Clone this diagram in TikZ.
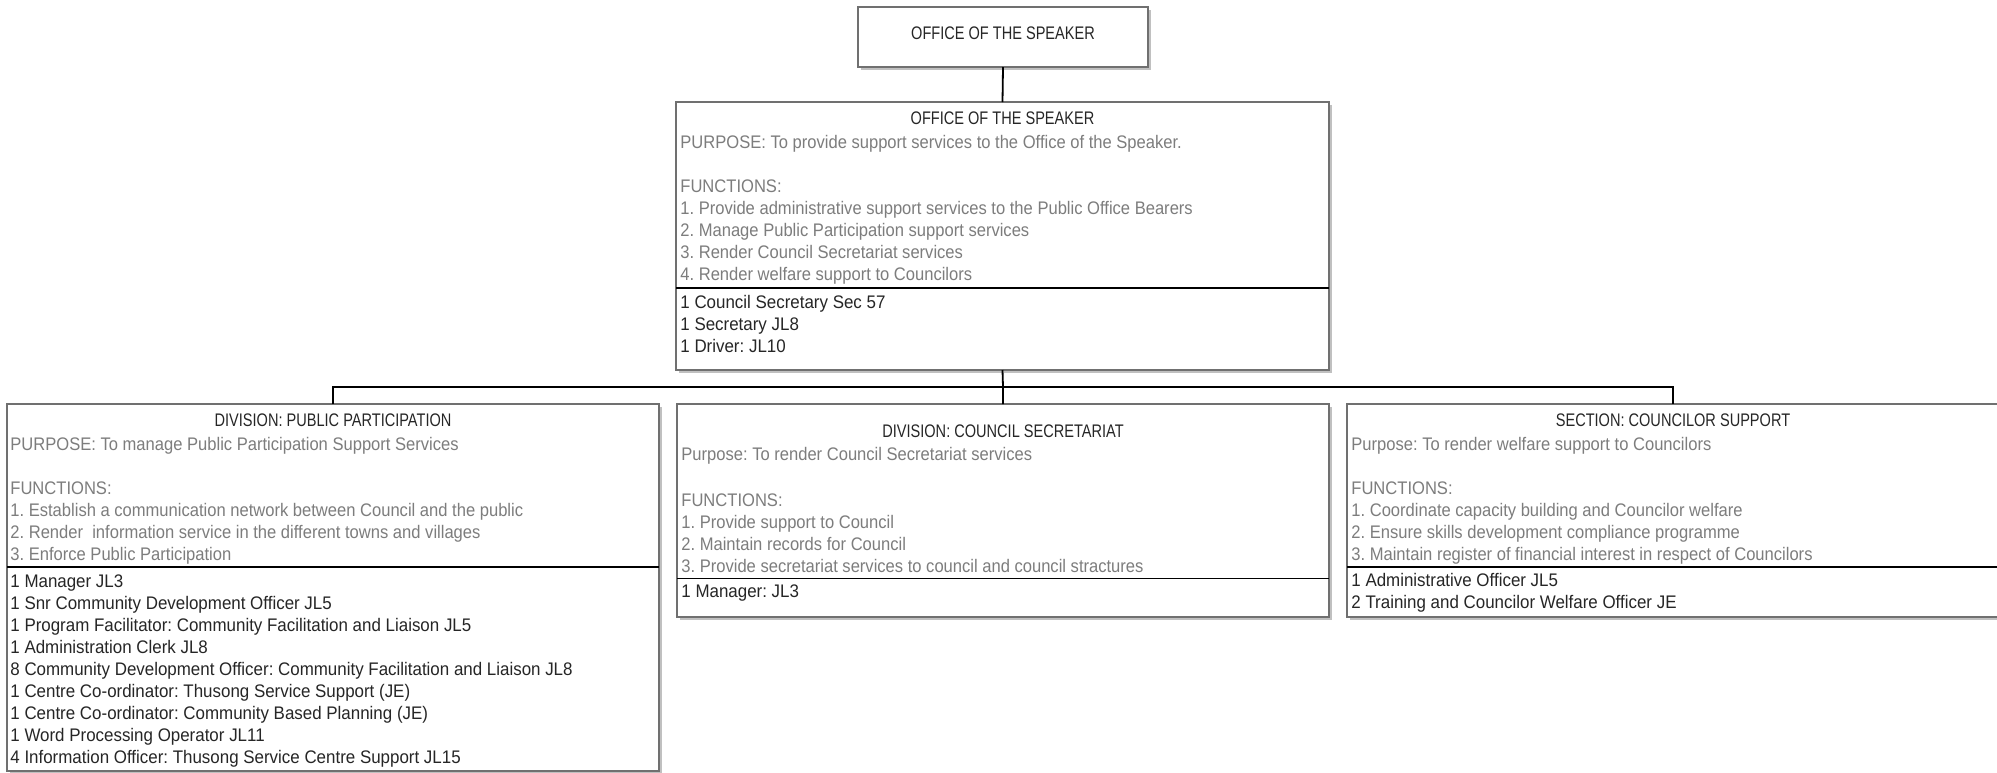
\documentclass[tikz,border=0pt]{standalone}
\usepackage{fontspec}
\setmainfont{Liberation Sans}[FakeStretch=0.91]
\newfontfamily\ttlfont{Liberation Sans}[FakeStretch=0.8]
\newfontfamily\dkfont{Liberation Sans}[FakeStretch=0.93]
\usetikzlibrary{shadows}
\definecolor{bordergray}{HTML}{707070}
\definecolor{shadowgray}{HTML}{C0C0C0}
\definecolor{lighttext}{HTML}{7D7D7D}
\definecolor{darktext}{HTML}{262626}
\tikzset{
  orgbox/.style={draw=bordergray, line width=0.9pt, fill=white, inner sep=0pt, outer sep=0pt,
    drop shadow={shadow xshift=1.6pt, shadow yshift=-1.6pt, fill=shadowgray, opacity=1}},
  ttl/.style={font=\ttlfont\frenchspacing\fontsize{9.1}{11}\selectfont, text=darktext, inner sep=0pt, anchor=base},
  lt/.style={font=\frenchspacing\fontsize{9.1}{11}\selectfont, text=lighttext, inner sep=0pt, anchor=base west},
  dk/.style={font=\dkfont\frenchspacing\fontsize{9.1}{11}\selectfont, text=darktext, inner sep=0pt, anchor=base west},
  sepline/.style={line width=0.9pt, draw=black},
  link/.style={line width=0.9pt, draw=black},
}
\newcommand\txtlines[5]{%
  \foreach \tl [count=\ii from 0] in {#5} {\node[#2, name=#1\ii] at (#3, #4+22*\ii) {\tl};}}
\frenchspacing
\begin{document}
\begin{tikzpicture}[x=0.5pt, y=-0.5pt]
\useasboundingbox (0,0) rectangle (1997,772);

% boxes
\node[orgbox, minimum width=145pt, minimum height=30pt] (top) at (1003,37) {};
\node[orgbox, minimum width=326.5pt, minimum height=134pt] (main) at (1002.5,236) {};
\node[orgbox, minimum width=326pt, minimum height=183.5pt] (pp) at (333,587.5) {};
\node[orgbox, minimum width=326pt, minimum height=106.5pt] (cs) at (1003,510.5) {};
\node[orgbox, minimum width=326pt, minimum height=106.5pt] (cos) at (1673,510.5) {};

% separators
\draw[sepline] ([yshift=-26pt]main.west) -- ([yshift=-26pt]main.east);
\draw[sepline] ([yshift=10.25pt]pp.west) -- ([yshift=10.25pt]pp.east);
\draw[sepline] ([yshift=-34pt]cs.west) -- ([yshift=-34pt]cs.east);
\draw[sepline] ([yshift=-28.25pt]cos.west) -- ([yshift=-28.25pt]cos.east);

% connectors
\coordinate (bus) at (1003,387);
\draw[link] (top.south) -- (main.north);
\draw[link] (main.south) -- (bus) -- (cs.north);
\draw[link] (pp.north) |- (bus) -| (cos.north);

% top box
\node[ttl] (toptitle) at (1003,39) {OFFICE OF THE SPEAKER};

% main box
\node[ttl] (maintitle) at (1002.5,124) {OFFICE OF THE SPEAKER};
\node[lt] (mainpurpose) at (680,148) {PURPOSE: To provide support services to the Office of the Speaker.};
\txtlines{mainf}{lt}{680}{192}{FUNCTIONS:,
  1. Provide administrative support services to the Public Office Bearers,
  2. Manage Public Participation support services,
  3. Render Council Secretariat services,
  4. Render welfare support to Councilors}
\txtlines{mains}{dk}{680}{308}{1 Council Secretary Sec 57,
  1 Secretary JL8,
  1 Driver: JL10}

% public participation
\node[ttl] (pptitle) at (333,426) {DIVISION: PUBLIC PARTICIPATION};
\node[lt] (pppurpose) at (10,450) {PURPOSE: To manage Public Participation Support Services};
\txtlines{ppf}{lt}{10}{494}{FUNCTIONS:,
  1. Establish a communication network between Council and the public,
  2. Render\ \ information service in the different towns and villages,
  3. Enforce Public Participation}
\txtlines{pps}{dk}{10}{587}{1 Manager JL3,
  1 Snr Community Development Officer JL5,
  1 Program Facilitator: Community Facilitation and Liaison JL5,
  1 Administration Clerk JL8,
  8 Community Development Officer: Community Facilitation and Liaison JL8,
  1 Centre Co-ordinator: Thusong Service Support (JE),
  1 Centre Co-ordinator: Community Based Planning (JE),
  1 Word Processing Operator JL11,
  4 Information Officer: Thusong Service Centre Support JL15}

% council secretariat
\node[ttl] (cstitle) at (1003,437) {DIVISION: COUNCIL SECRETARIAT};
\node[lt] (cspurpose) at (681,460) {Purpose: To render Council Secretariat services};
\txtlines{csf}{lt}{681}{506}{FUNCTIONS:,
  1. Provide support to Council,
  2. Maintain records for Council,
  3. Provide secretariat services to council and council stractures}
\node[dk] (css0) at (681,597) {1 Manager: JL3};

% councilor support
\node[ttl] (costitle) at (1673,426) {SECTION: COUNCILOR SUPPORT};
\node[lt] (cospurpose) at (1351,450) {Purpose: To render welfare support to Councilors};
\txtlines{cosf}{lt}{1351}{494}{FUNCTIONS:,
  1. Coordinate capacity building and Councilor welfare,
  2. Ensure skills development compliance programme,
  3. Maintain register of financial interest in respect of Councilors}
\txtlines{coss}{dk}{1351}{586}{1 Administrative Officer JL5,
  2 Training and Councilor Welfare Officer JE}
\end{tikzpicture}
\end{document}
